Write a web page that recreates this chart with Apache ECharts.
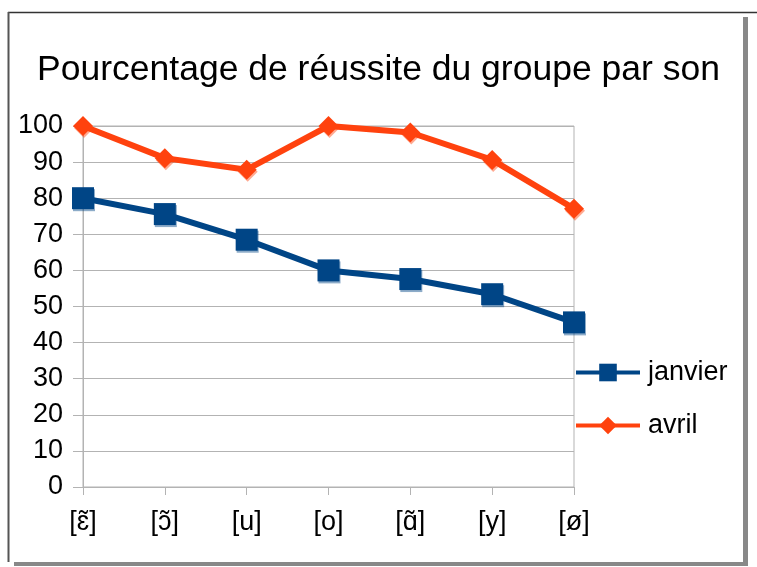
<!DOCTYPE html>
<html>
<head>
<meta charset="utf-8">
<script src="https://cdn.jsdelivr.net/npm/echarts@6/dist/echarts.min.js"></script>
<style>
html,body{margin:0;padding:0;background:#fff;}
#c{width:757px;height:567px;}
</style>
</head>
<body>
<div id="c"></div>
<script>
const titleText = 'Pourcentage de réussite du groupe par son';
const categories = ['[ɛ̃]', '[ɔ̃]', '[u]', '[o]', '[ɑ̃]', '[y]', '[ø]'];
const janvier = [80, 75.6, 68.5, 60, 57.6, 53.4, 45.6];
const avril = [100, 91.1, 87.9, 100, 98.2, 90.6, 77.1];
const yTicks = [0, 10, 20, 30, 40, 50, 60, 70, 80, 90, 100];

const chart = echarts.init(document.getElementById('c'), null, {renderer: 'canvas'});
const FONT = '"Liberation Sans", Arial, sans-serif';
chart.setOption({
  backgroundColor: '#ffffff',
  animation: false,
  title: {
    text: titleText,
    left: 'center',
    top: 47,
    textStyle: {fontFamily: FONT, fontSize: 35.5, fontWeight: 'normal', color: '#000'}
  },
  grid: {
    left: 83, right: 183, top: 126, bottom: 80,
    show: true, borderColor: '#b3b3b3', borderWidth: 1, containLabel: false
  },
  legend: {
    orient: 'vertical',
    left: 574,
    top: 359,
    padding: 0,
    itemWidth: 64,
    itemHeight: 22,
    itemGap: 26,
    lineStyle: {width: 4},
    textStyle: {fontFamily: FONT, fontSize: 27, color: '#000', padding: [0, 0, 0, 3]},
    data: ['janvier', 'avril']
  },
  xAxis: {
    type: 'category',
    data: categories,
    boundaryGap: false,
    axisLine: {lineStyle: {color: '#b3b3b3', width: 1}},
    axisTick: {show: true, length: 8, lineStyle: {color: '#b3b3b3'}},
    axisLabel: {fontFamily: FONT, fontSize: 27, color: '#000', margin: 22},
    splitLine: {show: false}
  },
  yAxis: {
    type: 'value',
    min: yTicks[0],
    max: yTicks[yTicks.length - 1],
    interval: 10,
    axisLine: {show: true, lineStyle: {color: '#b3b3b3', width: 1}},
    axisTick: {show: true, length: 10, lineStyle: {color: '#b3b3b3'}},
    axisLabel: {fontFamily: FONT, fontSize: 27, color: '#000', margin: 20},
    splitLine: {show: true, lineStyle: {color: '#b3b3b3', width: 1}}
  },
  series: [
    {
      name: 'janvier',
      type: 'line',
      data: janvier,
      symbol: 'rect',
      symbolSize: 22,
      color: '#004586',
      lineStyle: {width: 6, color: '#004586'},
      itemStyle: {color: '#004586', shadowColor: 'rgba(0,69,134,0.45)', shadowOffsetX: 1, shadowOffsetY: 2},
      z: 3
    },
    {
      name: 'avril',
      type: 'line',
      data: avril,
      symbol: 'diamond',
      symbolSize: 20,
      color: '#ff420e',
      lineStyle: {width: 6, color: '#ff420e'},
      itemStyle: {color: '#ff420e', shadowColor: 'rgba(255,66,14,0.45)', shadowOffsetX: 1, shadowOffsetY: 2},
      z: 4
    }
  ],
  graphic: [
    {type: 'line', shape: {x1: 8, y1: 12.5, x2: 757, y2: 12.5}, style: {stroke: '#333', lineWidth: 1.5}, silent: true},
    {type: 'line', shape: {x1: 8.5, y1: 12, x2: 8.5, y2: 562}, style: {stroke: '#555', lineWidth: 2}, silent: true},
    {type: 'rect', shape: {x: 743, y: 17, width: 5, height: 549}, style: {fill: '#888'}, silent: true},
    {type: 'rect', shape: {x: 14, y: 562, width: 734, height: 4}, style: {fill: '#888'}, silent: true}
  ]
});
</script>
</body>
</html>
